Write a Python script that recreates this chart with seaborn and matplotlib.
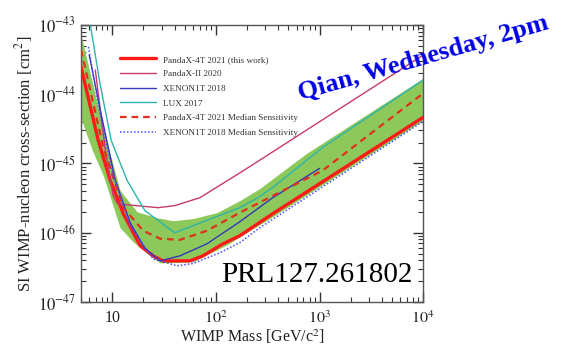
import numpy as np
import pandas as pd
import matplotlib
matplotlib.use("Agg")
import matplotlib.pyplot as plt
import seaborn as sns
from matplotlib.ticker import LogLocator, NullFormatter

# ---- data ----
pandax4t_m = [5.0, 7.33, 9.57, 12.8, 18.6, 24.8, 30.9, 56.2, 75, 117, 170, 353, 10000]
pandax4t_s = [2.46e-44, 2.15e-45, 5.7e-46, 1.88e-46, 6.5e-47, 4.64e-47, 3.93e-47, 3.93e-47,
              4.64e-47, 6.93e-47, 9.05e-47, 1.88e-46, 4.64e-45]

median_m = [5.0, 8.2, 12.8, 19.9, 29, 45, 82, 170, 1069, 10000]
median_s = [4.35e-44, 1.71e-45, 2.3e-46, 1.07e-46, 8.2e-47, 7.9e-47, 1.07e-46, 1.95e-46,
            7.9e-46, 1.03e-44]

band_up_m = [5.0, 8.2, 11.9, 17.4, 27, 38.6, 60, 102, 170, 265, 750, 10000]
band_up_s = [7.2e-44, 3.2e-45, 4.07e-46, 2.0e-46, 1.65e-46, 1.49e-46, 1.6e-46, 1.95e-46,
             2.91e-46, 4.35e-46, 1.4e-45, 1.7e-44]
band_lo_m = [5.0, 6.43, 8.2, 11.9, 15.9, 23.2, 29, 60, 75, 128, 212, 353, 10000]
band_lo_s = [4.49e-45, 1.54e-45, 6.7e-46, 1.18e-46, 7.4e-47, 4.64e-47, 3.67e-47, 3.8e-47,
             4.49e-47, 6.7e-47, 1.07e-46, 1.7e-46, 4.2e-45]

pandax2_m = [6.87, 8.58, 10.2, 11.2, 13.3, 27.7, 40, 70, 170, 254, 10000]
pandax2_s = [2.23e-44, 1.54e-45, 3.44e-46, 2.63e-46, 2.55e-46, 2.3e-46, 2.46e-46, 3.2e-46,
             7.3e-46, 1.07e-45, 3.67e-44]

xenon_m = [6.0, 7.67, 10.7, 14.9, 20.7, 29, 45, 82, 170, 353, 1000]
xenon_s = [3.67e-44, 5.9e-45, 5.7e-46, 1.4e-46, 5.9e-47, 3.93e-47, 4.64e-47, 6.93e-47,
           1.44e-46, 3.2e-46, 8.5e-46]

lux_m = [6.0, 7.67, 9.78, 13.9, 20.7, 40, 170, 254, 353, 1069, 10000]
lux_s = [1.26e-43, 1.35e-44, 2.15e-45, 5.7e-46, 2.08e-46, 1.0e-46, 2.3e-46, 3.2e-46,
         4.49e-46, 1.7e-45, 1.6e-44]

xenon_med_m = [5.9, 7.67, 10.2, 14.9, 24.8, 42.2, 60, 109, 170, 265, 10000]
xenon_med_s = [4.8e-44, 4.97e-45, 6.7e-46, 1.26e-46, 4.2e-47, 3.33e-47, 3.6e-47, 5.13e-47,
               7.2e-47, 1.18e-46, 4.06e-45]

labels = ["PandaX-4T 2021 (this work)", "PandaX-II 2020", "XENON1T 2018", "LUX 2017",
          "PandaX-4T 2021 Median Sensitivity", "XENON1T 2018 Median Sensitivity"]
xtick_vals = [10, 100, 1000, 10000]
xtick_labels = ["10", "$10^2$", "$10^3$", "$10^4$"]
ytick_vals = [1e-47, 1e-46, 1e-45, 1e-44, 1e-43]
ytick_labels = ["$10^{-47}$", "$10^{-46}$", "$10^{-45}$", "$10^{-44}$", "$10^{-43}$"]

# ---- style ----
sns.set_theme(style="ticks")
plt.rcParams["font.family"] = ["Liberation Serif", "DejaVu Serif"]
plt.rcParams["mathtext.fontset"] = "stix"

fig = plt.figure(figsize=(5.87, 3.5), dpi=100)
ax = fig.add_axes([0.138, 0.137, 0.583, 0.792])

# band: interpolate both edges onto common log grid for fill
grid = np.logspace(np.log10(5), 4, 400)
up = 10 ** np.interp(np.log10(grid), np.log10(band_up_m), np.log10(band_up_s))
lo = 10 ** np.interp(np.log10(grid), np.log10(band_lo_m), np.log10(band_lo_s))
ax.fill_between(grid, lo, up, color="#8cc85a", lw=0, zorder=1)

series = [
    (pandax4t_m, pandax4t_s, labels[0], "#ff1a1a", 2.4, "-"),
    (pandax2_m, pandax2_s, labels[1], "#c8386e", 1.0, "-"),
    (xenon_m, xenon_s, labels[2], "#3636b8", 1.0, "-"),
    (lux_m, lux_s, labels[3], "#2fb3ad", 1.0, "-"),
    (median_m, median_s, labels[4], "#e0301e", 1.6, (0, (3, 2.2))),
    (xenon_med_m, xenon_med_s, labels[5], "#4a4aff", 1.1, (0, (1, 1.3))),
]
for mx, sy, lab, col, lw, ls in series:
    df = pd.DataFrame({"m": mx, "s": sy})
    sns.lineplot(data=df, x="m", y="s", ax=ax, color=col, lw=lw, linestyle=ls,
                 label=lab, sort=False, estimator=None, zorder=3)

ax.set_xscale("log")
ax.set_yscale("log")
ax.set_xlim(5, 1e4)
ax.set_ylim(1e-47, 1e-43)
ax.set_xticks(xtick_vals)
ax.set_xticklabels(xtick_labels)
ax.set_yticks(ytick_vals)
ax.set_yticklabels(ytick_labels)
ax.xaxis.set_minor_locator(LogLocator(base=10, subs=np.arange(2, 10)))
ax.yaxis.set_minor_locator(LogLocator(base=10, subs=np.arange(2, 10)))
ax.xaxis.set_minor_formatter(NullFormatter())
ax.yaxis.set_minor_formatter(NullFormatter())
ax.tick_params(which="both", direction="in", top=True, right=True, colors="#333333",
               labelsize=12, labelcolor="#222222")
ax.tick_params(which="major", length=7, width=1.0)
ax.tick_params(which="minor", length=3.5, width=0.8)
ax.tick_params(axis="x", which="major", pad=6, labelsize=11.5)
for sp in ax.spines.values():
    sp.set_color("#555555")
    sp.set_linewidth(1.0)

ax.set_xlabel("WIMP Mass [GeV/c$^2$]", fontsize=11.5, color="#222222", labelpad=0)
ax.set_ylabel("SI WIMP-nucleon cross-section [cm$^2$]", fontsize=12, color="#222222", labelpad=2)

leg = ax.legend(loc="upper left", bbox_to_anchor=(0.09, 0.92), frameon=False, fontsize=6.6,
                handlelength=3.9, labelspacing=0.68, handletextpad=0.8)
for t in leg.get_texts():
    t.set_color("#333333")

ax.text(0.968, 0.072, "PRL127.261802", transform=ax.transAxes, ha="right",
        va="baseline", fontsize=21, color="black", zorder=5)

fig.text(0.722, 0.835, "Qian, Wednesday, 2pm", ha="center", va="center", rotation=16,
         fontsize=19, fontweight="bold", color="#0000e6", zorder=6)

fig.savefig("out.png", dpi=100, facecolor="white")
